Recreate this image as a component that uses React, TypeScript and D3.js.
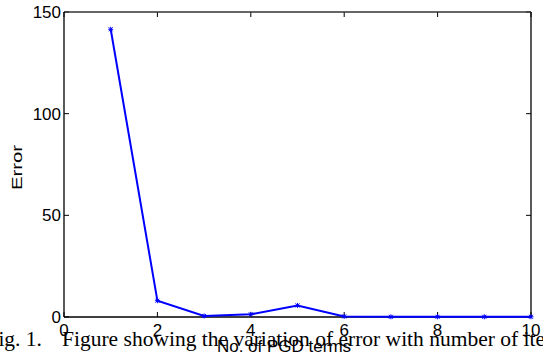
import React from "react";
import * as d3 from "d3";

const terms = [1, 2, 3, 4, 5, 6, 7, 8, 9, 10];
const errors = [141.5, 8.0, 0.5, 1.3, 5.7, 0.3, 0.1, 0.1, 0.1, 0.1];
const xTicks = [0, 2, 4, 6, 8, 10];
const yTicks = [0, 50, 100, 150];

const W = 543;
const H = 358;
const M = { left: 64, right: 531, top: 12, bottom: 317 };

export default function App() {
  const x = d3.scaleLinear().domain([0, 10]).range([M.left, M.right]);
  const y = d3.scaleLinear().domain([0, 150]).range([M.bottom, M.top]);
  const line = d3
    .line<number>()
    .x((_, i) => x(terms[i]))
    .y((d) => y(d));
  const tl = 5;
  const sans = "Liberation Sans, Arial, Helvetica, sans-serif";
  const serif = "Liberation Serif, Times New Roman, serif";
  return (
    <svg
      width={W}
      height={H}
      style={{ position: "absolute", left: 0, top: 0 }}
    >
      <rect x={0} y={0} width={W} height={H} fill="#fff" />
      {/* ticks */}
      {xTicks.map((t) => (
        <g key={"xt" + t}>
          <line x1={x(t)} x2={x(t)} y1={M.bottom} y2={M.bottom - tl} stroke="#000" strokeWidth={1} />
          <line x1={x(t)} x2={x(t)} y1={M.top} y2={M.top + tl} stroke="#000" strokeWidth={1} />
          <text x={x(t)} y={336} textAnchor="middle" fontFamily={sans} fontSize={17} fill="#000">
            {t}
          </text>
        </g>
      ))}
      {yTicks.map((t) => (
        <g key={"yt" + t}>
          <line x1={M.left} x2={M.left + tl} y1={y(t)} y2={y(t)} stroke="#000" strokeWidth={1} />
          <line x1={M.right} x2={M.right - tl} y1={y(t)} y2={y(t)} stroke="#000" strokeWidth={1} />
          <text x={61} y={y(t) + 6} textAnchor="end" fontFamily={sans} fontSize={17} fill="#000">
            {t}
          </text>
        </g>
      ))}
      {/* frame */}
      <line x1={M.left} x2={M.right} y1={M.top} y2={M.top} stroke="#333" strokeWidth={1.6} />
      <line x1={M.left} x2={M.right} y1={M.bottom} y2={M.bottom} stroke="#000" strokeWidth={1.3} />
      <line x1={M.left} x2={M.left} y1={M.top} y2={M.bottom} stroke="#000" strokeWidth={1.3} />
      <line x1={M.right} x2={M.right} y1={M.top} y2={M.bottom} stroke="#000" strokeWidth={1.3} />
      {/* data */}
      <path d={line(errors) || ""} fill="none" stroke="#0000ff" strokeWidth={2} />
      {errors.map((d, i) => (
        <g key={"m" + i} stroke="#0000ff" strokeWidth={1}>
          <line x1={x(terms[i]) - 2.5} x2={x(terms[i]) + 2.5} y1={y(d)} y2={y(d)} />
          <line x1={x(terms[i])} x2={x(terms[i])} y1={y(d) - 2.5} y2={y(d) + 2.5} />
          <line x1={x(terms[i]) - 2} x2={x(terms[i]) + 2} y1={y(d) - 2} y2={y(d) + 2} />
          <line x1={x(terms[i]) - 2} x2={x(terms[i]) + 2} y1={y(d) + 2} y2={y(d) - 2} />
        </g>
      ))}
      {/* axis labels */}
      <text
        transform="translate(22,167.5) rotate(-90)"
        textAnchor="middle"
        fontFamily={sans}
        fontSize={15}
        textLength={45}
        lengthAdjust="spacingAndGlyphs"
        fill="#000"
      >
        Error
      </text>
      {/* caption */}
      <text x={42} y={346} textAnchor="end" fontFamily={serif} fontSize={21.5} fill="#000">
        Fig. 1.
      </text>
      <text x={62} y={346} fontFamily={serif} fontSize={21.5} fill="#000">
        Figure showing the variation of error with number of iterations
      </text>
      <text x={284} y={352} textAnchor="middle" fontFamily={sans} fontSize={17} fill="#000">
        No. of PGD terms
      </text>
    </svg>
  );
}
